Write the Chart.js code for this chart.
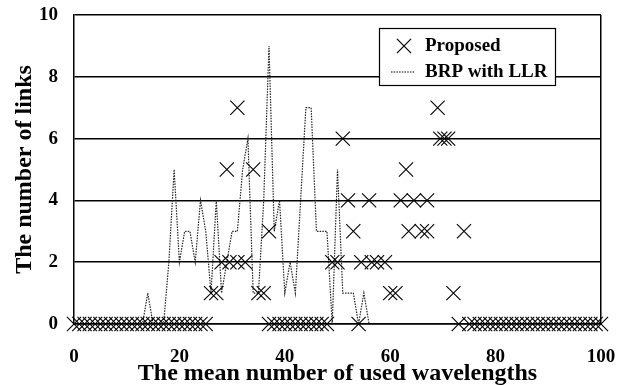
<!DOCTYPE html>
<html><head><meta charset="utf-8">
<script src="https://cdn.jsdelivr.net/npm/chart.js@4/dist/chart.umd.min.js"></script>
<style>html,body{margin:0;padding:0;background:#fff}#wrap{width:626px;height:385px}</style>
</head><body><div id="wrap"><canvas id="c" width="626" height="385"></canvas></div>
<script>
const xTicks = [0, 20, 40, 60, 80, 100];
const yTicks = [0, 2, 4, 6, 8, 10];
const xTitle = 'The mean number of used wavelengths';
const yTitle = 'The number of links';
const seriesNames = ['Proposed', 'BRP with LLR'];

// Proposed (scatter of × marks)
const proposedX = [
  0,1,2,3,4,5,6,7,8,9,10,11,12,13,14,15,16,17,18,19,20,21,22,23,24,25,
  37,38,39,40,41,42,43,44,45,46,47,48,54,73,
  75,76,77,78,79,80,81,82,83,84,85,86,87,88,89,90,91,92,93,94,95,96,97,98,99,100,
  26,27,35,36,60,61,72,
  28,29.5,31,32.5,49,50,54.5,56.5,57.5,59,
  37,53,63.5,66,67,74,
  52,56,62,64.5,67,
  29,34,63,
  51,69.5,70.3,71,
  31,69
];
const proposedY = [
  0,0,0,0,0,0,0,0,0,0,0,0,0,0,0,0,0,0,0,0,0,0,0,0,0,0,
  0,0,0,0,0,0,0,0,0,0,0,0,0,0,
  0,0,0,0,0,0,0,0,0,0,0,0,0,0,0,0,0,0,0,0,0,0,0,0,0,0,
  1,1,1,1,1,1,1,
  2,2,2,2,2,2,2,2,2,2,
  3,3,3,3,3,3,
  4,4,4,4,4,
  5,5,5,
  6,6,6,6,
  7,7
];

// BRP with LLR (dotted line)
const brpX = [0,13,14,15,17,18,19,20,21,22,23,24,25,26,27,28,29,30,31,32,33,34,35,36,37,38,39,40,41,42,43,44,45,46,47,48,49,50,51,52,53,54,55,56,100];
const brpY = [0, 0, 1, 0, 0, 2, 5, 2, 3, 3, 2, 4, 3, 1, 4, 1, 2, 3, 3, 5, 6, 1, 1, 4, 9, 3, 4, 1, 2, 1, 4, 7, 7, 3, 3, 3, 0, 5, 1, 1, 1, 0, 1, 0, 0];

const FONT = '"Liberation Serif", "Times New Roman", serif';

const legendPlugin = {
  id: 'insideLegend',
  afterDraw(chart) {
    const ctx = chart.ctx;
    const ds = chart.data.datasets;
    ctx.save();
    ctx.fillStyle = '#fff';
    ctx.fillRect(379.5, 28.5, 176, 57);
    ctx.strokeStyle = '#000';
    ctx.lineWidth = 1.2;
    ctx.strokeRect(379.5, 28.5, 176, 57);
    Chart.helpers.drawPoint(ctx, {pointStyle: 'crossRot', radius: 10, borderWidth: 1.2}, 404, 46);
    ctx.beginPath();
    ctx.setLineDash([1.5, 1.2]);
    ctx.lineWidth = 1.2;
    ctx.moveTo(391, 72); ctx.lineTo(415, 72);
    ctx.stroke();
    ctx.setLineDash([]);
    ctx.fillStyle = '#000';
    ctx.font = 'bold 19px ' + FONT;
    ctx.textBaseline = 'middle';
    ctx.textAlign = 'left';
    ctx.fillText(ds[0].label, 425, 46);
    ctx.fillText(ds[1].label, 425, 72);
    ctx.restore();
  }
};

function zeroPad(s) { s.paddingTop = 0; s.paddingBottom = 0; s.paddingLeft = 0; s.paddingRight = 0; }

new Chart(document.getElementById('c'), {
  type: 'scatter',
  data: {
    datasets: [
      {
        label: seriesNames[0],
        data: proposedX.map((x, i) => ({x: x, y: proposedY[i]})),
        pointStyle: 'crossRot',
        pointRadius: 10,
        pointHoverRadius: 10,
        borderColor: '#000',
        backgroundColor: '#000',
        pointBorderWidth: 1.1,
        showLine: false,
        clip: false,
        order: 1
      },
      {
        label: seriesNames[1],
        data: brpX.map((x, i) => ({x: x, y: brpY[i]})),
        showLine: true,
        pointRadius: 0,
        borderColor: '#222',
        borderWidth: 1.2,
        borderDash: [1.5, 1.2],
        tension: 0,
        clip: false,
        order: 2
      }
    ]
  },
  options: {
    responsive: false,
    animation: false,
    devicePixelRatio: 1,
    events: [],
    layout: {padding: {top: 15, right: 25, left: 0, bottom: 0}},
    plugins: {legend: {display: false}, tooltip: {enabled: false}},
    scales: {
      x: {
        type: 'linear', min: 0, max: 100,
        afterBuildTicks: s => { s.ticks = xTicks.map(v => ({value: v})); },
        afterFit: s => { s.height = 61; zeroPad(s); },
        ticks: {color: '#000', padding: 22, font: {family: FONT, size: 19, weight: 'bold'}},
        grid: {drawTicks: false, lineWidth: 1.5,
               color: c => (c.tick && c.tick.value === 100) ? '#000' : 'rgba(0,0,0,0)'},
        border: {display: true, color: '#000', width: 1.5},
        title: {display: true, text: xTitle, color: '#000', padding: {top: 0, bottom: -3},
                font: {family: FONT, size: 24, weight: 'bold'}}
      },
      y: {
        type: 'linear', min: 0, max: 10,
        afterBuildTicks: s => { s.ticks = yTicks.map(v => ({value: v})); },
        afterFit: s => { s.width = 74; zeroPad(s); },
        ticks: {color: '#000', padding: 16, font: {family: FONT, size: 19, weight: 'bold'}},
        grid: {drawTicks: false, lineWidth: 1.5, color: '#000'},
        border: {display: true, color: '#000', width: 1.5},
        title: {display: true, text: yTitle, color: '#000', padding: {top: 10, bottom: 0},
                font: {family: FONT, size: 24, weight: 'bold'}}
      }
    }
  },
  plugins: [legendPlugin]
});
</script>
</body></html>
